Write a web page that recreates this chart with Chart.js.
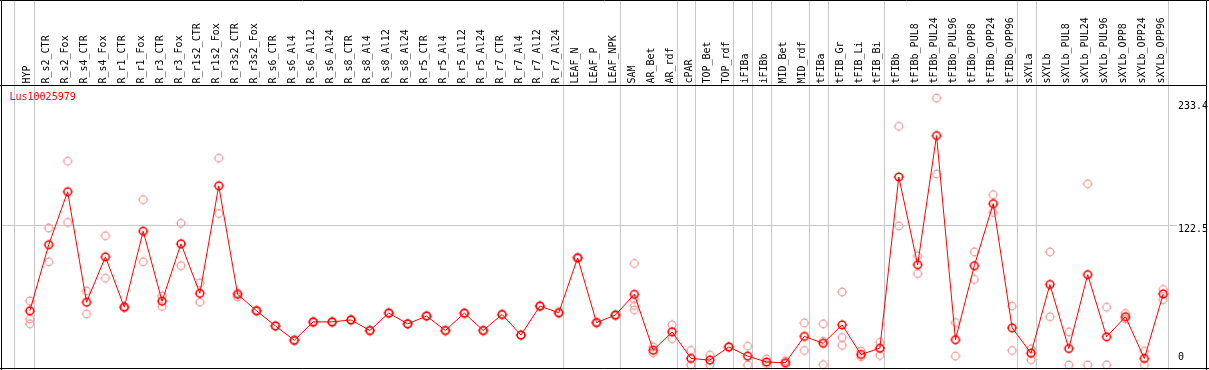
<!DOCTYPE html>
<html>
<head>
<meta charset="utf-8">
<script src="https://cdn.jsdelivr.net/npm/chart.js@4/dist/chart.umd.min.js"></script>
<style>
html,body{margin:0;padding:0;background:#fff;overflow:hidden;}
canvas{display:block;}
</style>
</head>
<body>
<canvas id="c" width="1209" height="370"></canvas>
<script>
const geneName = "Lus10025979";
const categories = ["HYP","R_s2_CTR","R_s2_Fox","R_s4_CTR","R_s4_Fox","R_r1_CTR","R_r1_Fox","R_r3_CTR","R_r3_Fox","R_r1s2_CTR","R_r1s2_Fox","R_r3s2_CTR","R_r3s2_Fox","R_s6_CTR","R_s6_Al4","R_s6_Al12","R_s6_Al24","R_s8_CTR","R_s8_Al4","R_s8_Al12","R_s8_Al24","R_r5_CTR","R_r5_Al4","R_r5_Al12","R_r5_Al24","R_r7_CTR","R_r7_Al4","R_r7_Al12","R_r7_Al24","LEAF_N","LEAF_P","LEAF_NPK","SAM","AR_Bet","AR_rdf","cPAR","TOP_Bet","TOP_rdf","iFIBa","iFIBb","MID_Bet","MID_rdf","tFIBa","tFIB_Gr","tFIB_Li","tFIB_Bi","tFIBb","tFIBb_PUL8","tFIBb_PUL24","tFIBb_PUL96","tFIBb_OPP8","tFIBb_OPP24","tFIBb_OPP96","sXYLa","sXYLb","sXYLb_PUL8","sXYLb_PUL24","sXYLb_PUL96","sXYLb_OPP8","sXYLb_OPP24","sXYLb_OPP96"];
const means = [47.4,105.2,151.5,54.9,94.6,50.6,117,55.8,106,62.7,156.7,61.8,47.4,34.2,21.6,37.7,37.7,39.4,30.2,45.4,36.0,42.8,30.2,45.4,30.2,44.2,26.2,51.5,45.7,93.7,37.1,43.7,61.8,12.9,29.0,5.7,4.3,15.8,7.8,2.6,2.0,25,19,35.1,9.2,14.7,164.4,87.7,200.6,22.1,86.8,141.1,32.5,10.3,70.4,14.4,79,24.7,42.2,5.7,62.1];
const rep1 = [56,119.8,178.2,64.7,113,51,144.6,60.4,123.9,71.6,180.8,59.5,48,34,22,38,37,39,30,45,36,43,30,45,30,44,26,51,46,94,37,44,88.8,15.8,35.1,12.7,8.6,16,16.4,5.2,3.7,36.8,36,63.8,12.1,19.8,208.7,95.4,233.4,37.1,98.9,148.9,51.5,14.1,98.9,29,158.4,50.6,45.1,12.1,66.1];
const rep2 = [40.2,90.2,124.7,44.6,75.9,50.2,90.2,51.2,86.8,54.9,132.5,63,47,34,21,37,38,40,30,46,36,43,30,45,30,44,26,52,45,93,37,43,57.5,10.6,23,0,0,15.5,0,0.5,0.5,12.7,20.7,24.1,7.2,8.4,121.6,79.9,167,7.8,74.8,133.4,12.7,4.6,42.2,0,0,0,40.3,0,57.2];
const rep3 = [36.0,null,null,null,null,null,null,null,null,null,null,null,null,null,null,null,null,null,null,null,null,null,null,null,null,null,null,null,null,null,null,null,48,null,null,null,null,null,null,null,null,null,0.3,17.2,null,null,null,null,null,null,null,null,null,null,null,null,null,null,null,null,null];
const rep4 = [null,null,null,null,null,null,null,null,null,null,null,null,null,null,null,null,null,null,null,null,null,null,null,null,null,null,null,null,null,null,null,null,52,null,null,null,null,null,null,null,null,null,null,null,null,null,null,null,null,null,null,null,null,null,null,null,null,null,null,null,null];
const groupEnds = [0,28,31,34,35,37,38,39,41,42,45,52,53,60];
const yTicks = [0,122.5,233.4];
const yTickLabels = ["0","122.5","233.4"];

const FONT = "10px 'DejaVu Sans Mono', 'Liberation Mono', monospace";

function makeMarker(color, lw) {
  const c = document.createElement('canvas');
  c.width = 14; c.height = 14;
  const g = c.getContext('2d');
  g.strokeStyle = color;
  g.lineWidth = lw;
  g.beginPath();
  g.arc(7, 7, 3.8, 0, Math.PI * 2);
  g.stroke();
  g.lineWidth = 1;
  g.beginPath();
  g.moveTo(7, 1.8); g.lineTo(7, 2.8);
  g.moveTo(7, 11.2); g.lineTo(7, 12.2);
  g.moveTo(1.8, 7); g.lineTo(2.8, 7);
  g.moveTo(11.2, 7); g.lineTo(12.2, 7);
  g.stroke();
  return c;
}
const mainMarker = makeMarker('#ff0000', 1.5);
const repMarker = makeMarker('#f09a9a', 1.2);

function pts(arr) {
  return arr.map((v, i) => v === null ? null : ({x: i, y: v})).filter(p => p !== null);
}

const decor = {
  id: 'decor',
  beforeDatasetsDraw(chart) {
    const ctx = chart.ctx;
    const xs = chart.scales.x, ys = chart.scales.y;
    ctx.save();
    ctx.strokeStyle = '#c8c8c8';
    ctx.lineWidth = 1;
    const firstX = Math.round(xs.getPixelForValue(-1) + 3.3) + 0.5;
    ctx.beginPath();
    ctx.moveTo(firstX, 0); ctx.lineTo(firstX, 370);
    groupEnds.forEach(i => {
      const x = Math.round(xs.getPixelForValue(i) + 4.5) + 0.5;
      ctx.moveTo(x, 0); ctx.lineTo(x, 370);
    });
    ctx.stroke();
    const ym = Math.round(ys.getPixelForValue(yTicks[1])) + 0.5;
    ctx.beginPath();
    ctx.moveTo(1, ym); ctx.lineTo(1177, ym);
    ctx.stroke();
    ctx.restore();
  },
  afterDraw(chart) {
    const ctx = chart.ctx;
    const xs = chart.scales.x, ys = chart.scales.y;
    ctx.save();
    ctx.strokeStyle = '#000';
    ctx.lineWidth = 1;
    ctx.beginPath();
    ctx.moveTo(0, 0.5); ctx.lineTo(1209, 0.5);
    ctx.moveTo(0, 85.5); ctx.lineTo(1207, 85.5);
    ctx.moveTo(1.5, 0); ctx.lineTo(1.5, 370);
    ctx.moveTo(1206.5, 0); ctx.lineTo(1206.5, 370);
    ctx.moveTo(0, 368.5); ctx.lineTo(1209, 368.5);
    ctx.stroke();
    ctx.font = FONT;
    ctx.fillStyle = '#000';
    ctx.textAlign = 'left';
    ctx.textBaseline = 'middle';
    categories.forEach((lab, i) => {
      const x = xs.getPixelForValue(i) - 2;
      ctx.save();
      ctx.translate(x, 83.5);
      ctx.rotate(-Math.PI / 2);
      ctx.fillText(lab, 0, 0);
      ctx.restore();
    });
    ctx.fillStyle = '#ff0000';
    ctx.fillText(geneName, 9.5, 97.5);
    ctx.fillStyle = '#000';
    yTicks.forEach((v, k) => {
      const y = ys.getPixelForValue(v);
      let ty;
      if (k === 0) ty = y - 7.5;
      else if (k === yTicks.length - 1) ty = y + 8.5;
      else ty = y + 4.5;
      ctx.fillText(yTickLabels[k], 1178, ty);
    });
    ctx.restore();
  }
};

new Chart(document.getElementById('c'), {
  type: 'scatter',
  data: {
    datasets: [
      {
        data: pts(means),
        showLine: true,
        borderColor: '#ff0000',
        borderWidth: 1,
        pointStyle: mainMarker,
        pointRadius: 4,
        order: 0,
        clip: false
      },
      { data: pts(rep1), showLine: false, pointStyle: repMarker, pointRadius: 4, order: 2, clip: false },
      { data: pts(rep2), showLine: false, pointStyle: repMarker, pointRadius: 4, order: 2, clip: false },
      { data: pts(rep3), showLine: false, pointStyle: repMarker, pointRadius: 4, order: 2, clip: false },
      { data: pts(rep4), showLine: false, pointStyle: repMarker, pointRadius: 4, order: 2, clip: false }
    ]
  },
  options: {
    responsive: false,
    animation: false,
    events: [],
    layout: { padding: { left: 1, right: 2, top: 85.5, bottom: 1 } },
    plugins: { legend: { display: false }, tooltip: { enabled: false } },
    scales: {
      x: { type: 'linear', min: -25 / 19, max: -25 / 19 + 1206 / 19, display: false },
      y: { type: 'linear', min: 0, max: 244.4, display: false }
    }
  },
  plugins: [decor]
});
</script>
</body>
</html>
